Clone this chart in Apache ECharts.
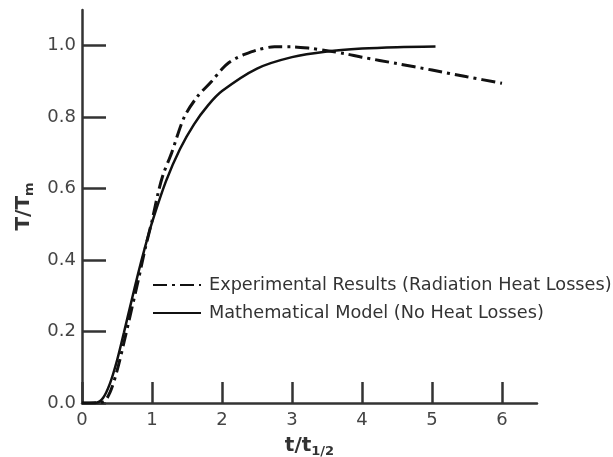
<!DOCTYPE html>
<html>
<head>
<meta charset="utf-8">
<script src="https://cdn.jsdelivr.net/npm/echarts@6/dist/echarts.min.js"></script>
<style>
  html, body { margin: 0; padding: 0; background: #fff; }
  #chart { width: 613px; height: 457px; }
</style>
</head>
<body>
<div id="chart"></div>
<script>
  // model curve (no heat losses)
  var modelT = [0, 0.2, 0.3, 0.4, 0.5, 0.6, 0.7, 0.8, 0.9, 1.0, 1.2, 1.4, 1.6, 1.8, 2.0, 2.5, 3.0, 3.5, 4.0, 4.5, 5.05];
  var modelV = [0, 0.001, 0.014, 0.055, 0.119, 0.198, 0.28, 0.361, 0.436, 0.505, 0.621, 0.711, 0.78, 0.833, 0.873, 0.936, 0.968, 0.984, 0.992, 0.996, 0.998];

  // experimental curve (radiation heat losses)
  var expT = [0, 0.3, 0.4, 0.5, 0.6, 0.7, 0.8, 0.9, 1.0, 1.09, 1.16, 1.28, 1.46, 1.65, 1.85, 2.0, 2.1, 2.2, 2.3, 2.5, 2.75, 3.0, 3.25, 3.5, 3.75, 4.0, 4.5, 5.0, 5.5, 6.0];
  var expV = [0, 0.003, 0.03, 0.09, 0.17, 0.255, 0.34, 0.43, 0.51, 0.59, 0.64, 0.70, 0.80, 0.858, 0.90, 0.935, 0.953, 0.965, 0.974, 0.988, 0.997, 0.997, 0.993, 0.986, 0.978, 0.968, 0.95, 0.932, 0.913, 0.895];

  var xTicks = [0, 1, 2, 3, 4, 5, 6];
  var yTicks = [0, 0.2, 0.4, 0.6, 0.8, 1.0];

  var expName = 'Experimental Results (Radiation Heat Losses)';
  var modelName = 'Mathematical Model (No Heat Losses)';

  function pairs(xs, ys) {
    return xs.map(function (x, i) { return [x, ys[i]]; });
  }

  var nameRich = {
    a: { fontSize: 20, fontWeight: 'bold', color: '#333', fontFamily: 'DejaVu Sans' },
    b: { fontSize: 13, fontWeight: 'bold', color: '#333', fontFamily: 'DejaVu Sans', padding: [12, 0, 0, 0] }
  };

  var chart = echarts.init(document.getElementById('chart'));
  chart.setOption({
    animation: false,
    textStyle: { fontFamily: 'DejaVu Sans' },
    grid: { left: 82, right: 76, top: 10, bottom: 54, outerBoundsMode: 'none' },
    legend: {
      orient: 'vertical',
      left: 147,
      top: 271,
      itemWidth: 48,
      itemHeight: 14,
      itemGap: 10,
      itemStyle: { opacity: 0 },
      textStyle: { fontSize: 17.7, color: '#333', fontFamily: 'DejaVu Sans', padding: [0, 0, 0, 3] },
      data: [expName, modelName]
    },
    xAxis: {
      type: 'value',
      min: 0,
      max: 6.5,
      name: '{a|t/t}{b|1/2}',
      nameLocation: 'middle',
      nameGap: 30,
      nameTextStyle: { rich: nameRich },
      splitLine: { show: false },
      axisLine: { lineStyle: { color: '#333', width: 2.5 } },
      axisTick: { inside: true, length: 21, lineStyle: { color: '#333', width: 2.5 }, customValues: xTicks },
      axisLabel: { fontSize: 18, color: '#444', margin: 8, customValues: xTicks }
    },
    yAxis: {
      type: 'value',
      min: 0,
      max: 1.1,
      name: '{a|T/T}{b|m}',
      nameLocation: 'middle',
      nameRotate: 90,
      nameGap: 39,
      nameTextStyle: { rich: nameRich },
      splitLine: { show: false },
      axisLine: { show: true, lineStyle: { color: '#333', width: 2.5 } },
      axisTick: { show: true, inside: true, length: 24, lineStyle: { color: '#333', width: 2.5 }, customValues: yTicks },
      axisLabel: {
        fontSize: 18, color: '#444', margin: 6, customValues: yTicks,
        formatter: function (v) { return v.toFixed(1); }
      }
    },
    series: [
      {
        name: expName,
        type: 'line',
        smooth: 0.3,
        symbol: 'none',
        lineStyle: { color: '#111', width: 3, type: [14, 5, 3, 5] },
        itemStyle: { color: '#111' },
        data: pairs(expT, expV)
      },
      {
        name: modelName,
        type: 'line',
        smooth: 0.3,
        symbol: 'none',
        lineStyle: { color: '#111', width: 2.5 },
        itemStyle: { color: '#111' },
        data: pairs(modelT, modelV)
      }
    ]
  });
</script>
</body>
</html>
